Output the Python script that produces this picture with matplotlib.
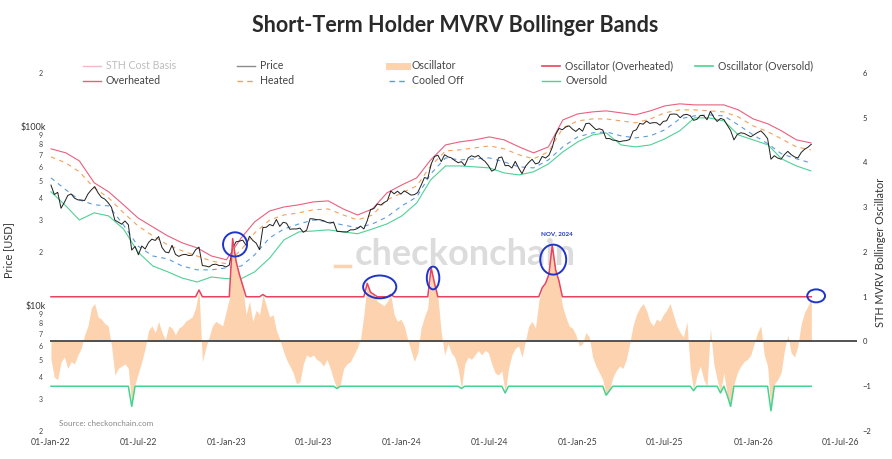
import numpy as np
import pandas as pd
import matplotlib
matplotlib.use("Agg")
import matplotlib.pyplot as plt
import matplotlib.dates as mdates
from matplotlib.patches import Ellipse
from matplotlib.lines import Line2D

plt.rcParams['font.family'] = ['Lato', 'DejaVu Sans']

# ---- data ----
# weekly price, USD thousands, starting 2022-01-01
price_k = [
    47.3, 41.9, 43.1, 35.1, 37.9, 41.4, 42.2, 40.0, 39.1, 39.0, 38.8, 42.2, 44.5,
    46.4, 42.8, 40.4, 39.5, 37.7, 35.5, 30.1, 29.4, 28.6, 29.8, 28.4, 20.5, 21.5,
    19.3, 21.6, 20.8, 22.6, 23.6, 23.2, 24.4, 21.2, 20.0, 19.8, 21.8, 19.4, 18.9,
    19.3, 19.4, 19.1, 19.2, 20.6, 21.3, 16.8, 16.7, 16.5, 17.0, 17.1, 16.8, 16.8, 16.5,
    16.9, 20.9, 22.8, 23.0, 23.3, 21.8, 24.5, 23.2, 22.4, 20.6, 27.4, 27.5, 28.5,
    28.0, 30.4, 27.8, 29.3, 29.0, 26.8, 26.9, 26.9, 27.2, 25.8, 26.5, 30.7, 30.6,
    30.3, 30.3, 29.9, 29.3, 29.0, 29.4, 26.1, 26.0, 25.9, 25.9, 26.6, 26.6, 27.0,
    27.9, 26.9, 29.9, 34.5, 35.0, 37.1, 36.6, 37.8, 38.7, 43.8, 42.3, 43.7, 42.1,
    43.9, 42.8, 41.6, 41.8, 43.0, 47.1, 52.1, 51.5, 62.0, 68.3, 69.5, 64.0, 69.9,
    68.0, 67.1, 64.9, 63.1, 63.9, 60.8, 67.0, 69.0, 67.8, 69.3, 66.2, 64.2, 60.8,
    56.6, 57.9, 67.1, 67.9, 60.7, 60.9, 58.9, 64.2, 58.9, 54.8, 60.0, 63.3, 65.9,
    62.1, 63.0, 68.4, 67.0, 69.4, 76.8, 90.6, 98.0, 96.4, 99.8, 101.4, 97.2, 94.3,
    98.1, 94.6, 104.4, 104.8, 100.6, 96.5, 97.6, 96.1, 86.0, 86.1, 84.3, 84.0, 82.6,
    83.5, 83.8, 85.0, 94.6, 96.4, 104.6, 103.5, 107.8, 104.6, 105.6, 105.5, 102.2,
    107.3, 108.2, 117.5, 118.0, 117.6, 112.5, 116.7, 117.5, 115.4, 108.8, 110.2,
    115.9, 115.7, 109.6, 122.2, 113.2, 107.2, 111.5, 110.0, 102.3, 95.5, 84.6, 90.8,
    92.7, 92.0, 90.0, 88.0,
    90.5, 93.0, 95.0, 91.0, 86.0, 66.0, 69.0, 67.0, 66.0, 70.0, 73.0, 70.0, 68.0,
    67.0, 72.0, 75.0, 77.0, 80.0,
]

# weekly oscillator, same dates
osc = [
    -0.4, -0.8, -0.85, -0.45, -0.35, -0.6, -0.45, -0.5, -0.3, -0.15, 0.15, 0.35, 0.75,
    0.85, 0.55, 0.5, 0.4, 0.35, -0.1, -0.75, -0.6, -0.55, -0.5, -0.6, -1.45, -0.95,
    -0.7, -0.45, -0.15, 0.25, 0.35, 0.2, 0.45, 0.2, 0.05, 0.35, 0.3, 0.15, 0.3,
    0.35, 0.45, 0.5, 0.55, 0.75, 1.15, -0.45, -0.15, 0.1, 0.35, 0.45, 0.4, 0.35, 0.65,
    0.95, 2.3, 1.8, 1.5, 1.25, 0.6, 0.9, 0.45, 0.7, 0.6, 1.05, 0.8, 0.55,
    0.6, 0.25, 0.05, -0.2, -0.4, -0.55, -0.7, -0.95, -0.9, -0.5, -0.3, -0.35, -0.3,
    -0.4, -0.45, -0.55, -0.4, -0.6, -0.85, -1.05, -0.95, -0.6, -0.5, -0.45, -0.3, -0.15,
    0.05, 0.6, 1.3, 1.1, 1.05, 0.9, 0.85, 0.8, 0.9, 1.05, 0.6, 0.45, 0.5,
    0.35, 0.05, -0.2, -0.45, -0.25, 0.3, 0.55, 0.75, 1.65, 1.3, 1.0, 0.2, -0.3,
    -0.05, -0.25, -0.35, -0.6, -1.05, -0.5, -0.35, -0.4, -0.3, -0.2, -0.3, -0.2, -0.25,
    -0.5, -0.7, -0.75, -0.65, -1.15, -0.6, -0.3, -0.15, -0.1, -0.35, 0.0, 0.35, 0.45,
    0.3, 0.9, 1.2, 1.3, 1.5, 2.15, 1.6, 1.35, 0.8, 0.55, 0.35, 0.3, 0.15,
    -0.1, -0.05, 0.2, 0.1, -0.35, -0.55, -0.7, -0.85, -1.2, -1.1, -0.8, -0.65, -0.55,
    -0.6, -0.4, -0.05, 0.35, 0.6, 0.75, 0.85, 0.7, 0.45, 0.35, 0.5, 0.45,
    0.6, 0.7, 0.85, 0.6, 0.35, 0.2, 0.1, 0.45, -0.6, -1.1, -0.75, -0.55,
    -0.85, -1.0, 0.3, -0.5, -0.85, -1.15, -0.7, -1.2, -1.45, -0.95, -0.7, -0.55,
    -0.45, -0.4, -0.3,
    -0.05, 0.2, 0.35, -0.3, -0.55, -1.55, -0.95, -0.85, -0.7, -0.2, 0.15, -0.25, -0.35,
    -0.1, 0.4, 0.65, 0.8, 0.95,
]

# monthly bands, USD thousands, starting 2022-01-01
overheated_k = [
    75.4, 71.6, 64.6, 48.7, 43.4, 36.7, 31.0, 27.6, 24.6, 22.5, 21.1, 19.0,
    18.1, 24.0, 29.5, 33.9, 35.7, 36.7, 38.1, 38.6, 34.8, 32.2, 34.8, 42.8,
    47.4, 51.9, 65.4, 79.3, 82.5, 84.6, 87.9, 84.6, 77.3, 71.6, 77.3, 109.4,
    118.2, 121.3, 122.9, 119.8, 116.7, 122.9, 131.0, 134.5, 132.7, 132.7, 132.7, 124.5,
    110.8, 103.9, 95.0, 84.6, 81.4,
]
heated_k = [
    68.0, 62.9, 56.1, 45.6, 40.1, 33.1, 28.0, 24.6, 21.9, 20.3, 19.0, 17.8,
    17.2, 20.6, 25.6, 30.2, 32.2, 33.1, 34.4, 34.8, 32.2, 30.2, 32.2, 39.1,
    42.8, 46.8, 60.5, 73.4, 74.4, 76.3, 78.3, 75.4, 69.8, 66.3, 72.5, 98.7,
    108.0, 110.8, 110.8, 108.0, 105.3, 110.8, 119.8, 124.5, 124.5, 122.9, 121.3, 113.7,
    101.3, 93.8, 85.7, 77.3, 74.4,
]
cooled_k = [
    51.9, 44.5, 39.1, 36.7, 36.2, 28.3, 21.6, 19.0, 18.3, 16.7, 15.9, 15.9,
    16.3, 16.7, 19.3, 24.0, 26.9, 28.7, 30.2, 29.5, 28.3, 27.3, 28.7, 31.4,
    36.2, 40.6, 54.6, 67.1, 65.4, 66.3, 67.1, 63.7, 59.8, 59.0, 65.4, 77.3,
    87.9, 92.6, 93.8, 89.1, 86.8, 89.1, 96.2, 110.8, 115.2, 116.7, 115.2, 102.6,
    90.2, 80.4, 70.7, 66.3, 62.9,
]
oversold_k = [
    43.4, 36.2, 30.2, 33.1, 31.8, 26.9, 20.0, 16.7, 15.5, 14.3, 13.6, 14.5,
    14.2, 14.2, 15.5, 18.5, 23.4, 25.9, 26.2, 26.6, 25.9, 25.3, 26.9, 28.7,
    31.8, 37.6, 50.6, 60.5, 60.5, 59.8, 59.0, 55.3, 53.9, 56.1, 62.1, 72.5,
    82.5, 90.2, 92.6, 79.3, 77.3, 79.3, 85.7, 95.0, 112.3, 112.3, 108.0, 90.2,
    84.6, 79.3, 66.3, 60.5, 56.8,
]

week_dates = pd.date_range("2022-01-01", periods=len(price_k), freq="7D")
band_dates = pd.date_range("2022-01-01", periods=len(overheated_k), freq="MS")

# annotation circles: (date, oscillator centre, width in days, height)
circles = [
    ("2023-01-19", 2.17, 50, 0.54),
    ("2023-11-16", 1.22, 69, 0.51),
    ("2024-03-06", 1.42, 26, 0.51),
    ("2024-11-11", 1.83, 54, 0.67),
    ("2026-05-12", 1.02, 37, 0.29),
]

W, H = 892, 459
fig = plt.figure(figsize=(W / 100, H / 100), dpi=100)


def fx(x):
    return x / W


def fy(y):
    return 1 - y / H


ax = fig.add_axes([fx(50), fy(431), (857 - 50) / W, (431 - 73) / H])
ax2 = ax.twinx()

price = np.array(price_k) * 1000
osc = np.array(osc)

# bands + price on the log axis
ax.plot(band_dates, np.array(overheated_k) * 1000, color='#e9607f', lw=0.8, zorder=2)
ax.plot(band_dates, np.array(heated_k) * 1000, color='#f5a05a', lw=0.8, dashes=(4, 4), zorder=2)
ax.plot(band_dates, np.array(cooled_k) * 1000, color='#5b9be0', lw=0.8, dashes=(4, 4), zorder=2)
ax.plot(band_dates, np.array(oversold_k) * 1000, color='#4fd196', lw=0.8, zorder=2)
ax.plot(week_dates, price, color='#1e1e1e', lw=0.7, zorder=3)

ax.set_yscale('log')
ax.set_ylim(2000, 200000)
major = [1e4, 1e5]
minor = [m * 10 ** e for e in (3, 4) for m in range(2, 10)] + [2e5]
ax.yaxis.set_major_locator(matplotlib.ticker.FixedLocator(major))
ax.yaxis.set_major_formatter(matplotlib.ticker.FixedFormatter(['$10k', '$100k']))
ax.yaxis.set_minor_locator(matplotlib.ticker.FixedLocator(minor))
ax.yaxis.set_minor_formatter(matplotlib.ticker.FixedFormatter([str(int(v))[0] for v in minor]))
ax.tick_params(axis='y', which='major', length=0, labelsize=6.5, pad=3, colors='#333333')
ax.tick_params(axis='y', which='minor', length=0, labelsize=5, pad=5, colors='#444444')

ax.set_xlim(pd.Timestamp("2021-12-30"), pd.Timestamp("2026-08-05"))
ax.xaxis.set_major_locator(mdates.MonthLocator(bymonth=[1, 7]))
ax.xaxis.set_major_formatter(mdates.DateFormatter('%d-%b-%y'))
ax.tick_params(axis='x', length=0, labelsize=6.3, pad=5, colors='#444444')

# oscillator on the right axis
ax2.fill_between(week_dates, 0, osc, color='#fcd3ae', lw=0, zorder=1)
ax2.axhline(0, color='#444444', lw=1.3, zorder=2)
ax2.plot(week_dates, np.maximum(osc, 1), color='#e8435f', lw=1.1, zorder=3)
ax2.plot(week_dates, np.minimum(osc, -1), color='#45d48f', lw=1.1, zorder=3)
ax2.set_ylim(-2, 6)
ax2.set_yticks(range(-2, 7))
ax2.tick_params(axis='y', length=0, labelsize=5.5, pad=4, colors='#333333')

for d, c, w, h in circles:
    ax2.add_patch(Ellipse((mdates.date2num(pd.Timestamp(d)), c), w, h, fill=False,
                          edgecolor='#1f35c9', lw=1.4, zorder=5))
ax2.text(mdates.date2num(pd.Timestamp("2024-11-19")), 2.4, 'NOV, 2024', color='#1f35c9',
         fontsize=4.5, fontweight='bold', ha='center', va='center')

for a in (ax, ax2):
    for s in a.spines.values():
        s.set_visible(False)
ax.patch.set_visible(False)
ax2.patch.set_visible(False)

# watermark
ax.text(fx(465), fy(265), 'checkonchain', transform=fig.transFigure, fontsize=26,
        fontweight='bold', color='#dcdcdc', ha='center', va='baseline', zorder=0.5)
ax.add_line(Line2D([fx(335), fx(350)], [fy(266), fy(266)], transform=fig.transFigure,
                   color='#fbd3b0', lw=2.5, zorder=0.5))

# titles and labels
fig.text(fx(455), fy(26), 'Short-Term Holder MVRV Bollinger Bands', fontsize=15.5,
         fontweight='bold', color='#2a2a2a', ha='center', va='center')
fig.text(fx(9), fy(250), 'Price [USD]', rotation=90, fontsize=7.8, color='#333333',
         ha='center', va='center')
fig.text(fx(880), fy(252), 'STH MVRV Bollinger Oscillator', rotation=90, fontsize=7.8,
         color='#333333', ha='center', va='center')
fig.text(fx(59), fy(424), 'Source: checkonchain.com', fontsize=5.8, color='#888888',
         ha='left', va='center')

# legend drawn by hand so columns are evenly spaced
legend = [
    (83, 66, 'STH Cost Basis', dict(color='#f4b8c6', lw=1.0), '#bdbdbd'),
    (83, 81, 'Overheated', dict(color='#e9607f', lw=1.0), '#444444'),
    (237, 66, 'Price', dict(color='#8a8a8a', lw=1.0), '#444444'),
    (237, 81, 'Heated', dict(color='#f5a05a', lw=1.0, dashes=(4, 3)), '#444444'),
    (389, 66, 'Oscillator', dict(color='#fcd3ae', lw=5), '#444444'),
    (389, 81, 'Cooled Off', dict(color='#5b9be0', lw=1.0, dashes=(4, 3)), '#444444'),
    (542, 66, 'Oscillator (Overheated)', dict(color='#e8435f', lw=1.2), '#444444'),
    (542, 81, 'Oversold', dict(color='#4fd196', lw=1.0), '#444444'),
    (695, 66, 'Oscillator (Oversold)', dict(color='#45d48f', lw=1.2), '#444444'),
]
for x0, y0, label, style, tcol in legend:
    fig.add_artist(Line2D([fx(x0), fx(x0 + 18)], [fy(y0), fy(y0)],
                          transform=fig.transFigure, **style))
    fig.text(fx(x0 + 23), fy(y0), label, fontsize=7.6, color=tcol, ha='left', va='center')

fig.savefig('out.png', dpi=100, facecolor='white')
